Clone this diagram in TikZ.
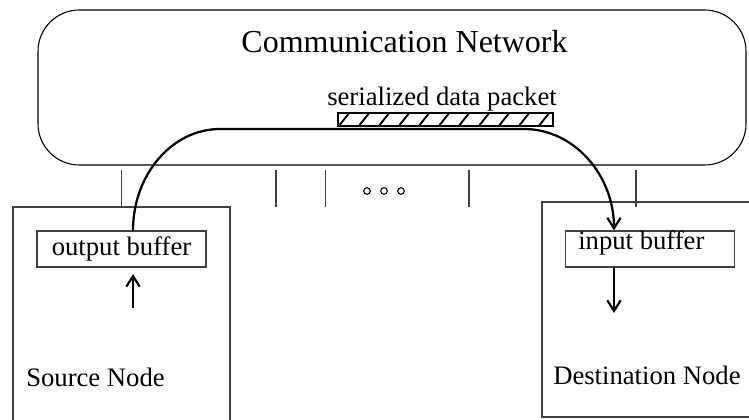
\documentclass[tikz,border=0pt]{standalone}
\usepackage{fontspec}
\setmainfont{Liberation Serif}
\usetikzlibrary{arrows.meta,positioning}
\definecolor{boxgray}{RGB}{64,64,64}

\begin{document}
\begin{tikzpicture}[x=.75pt,y=-.75pt,
    every node/.style={inner sep=0pt,font=\fontsize{20}{24}\selectfont},
    titletext/.style={font=\fontsize{24}{29}\selectfont},
    netbox/.style={draw=black,line width=.8pt,rounded corners=31pt},
    nodebox/.style={draw=boxgray,line width=.9pt},
    bufbox/.style={draw=boxgray,line width=.9pt,minimum width=126.75pt,minimum height=27pt},
    port/.style={draw=boxgray,line width=.9pt},
    flow/.style={line width=1.7pt,-{Straight Barb[length=8pt,width=10pt,line width=1.6pt]}}]
  \useasboundingbox (0,0) rectangle (749,420);
  % network cloud
  \draw[netbox] (38,10) rectangle (746,165);
  \node[titletext,anchor=base] (nettitle) at (404.5,53) {Communication Network};
  \node[anchor=base] (pktlabel) at (442,106) {serialized data packet};
  % packet
  \begin{scope}
    \clip (338,113) rectangle (553,126);
    \foreach \x in {338,358,...,538}
      \draw[line width=1.4pt] (\x,127) -- (\x+12,112);
  \end{scope}
  \draw[line width=1.6pt] (338,113) rectangle (553,126);
  % ports
  \foreach \x in {121.5,276,325.5,469,636}
    \draw[port] (\x,170) -- (\x,207);
  \foreach \x in {367,384,401}
    \draw[line width=.8pt] (\x,191) circle (3.3);
  % source and destination
  \draw[nodebox] (13,425) -- (13,207) -- (230,207) -- (230,425);
  \draw[nodebox] (760,202) -- (542,202) -- (542,417) -- (760,417);
  \node[anchor=base west] (srclabel) at (26,386) {Source Node};
  \node[anchor=base west] (dstlabel) at (553,384) {Destination Node};
  \node[bufbox] (outbuf) at (121.5,249) {output buffer};
  \node[bufbox] (inbuf) at (650,249) {};
  \node[anchor=base west] (inlabel) at (578,250) {input buffer};
  \coordinate (srcin) at (133,308);
  \coordinate (dstout) at (614,313);
  % data flow
  \draw[flow] (srcin) -- (133,274);
  \draw[flow] (outbuf.north -| srcin) .. controls (133,174.7) and (172,129) .. (220,129)
    -- (524,129) .. controls (573.7,129) and (614,174.7) .. (inbuf.north -| dstout);
  \draw[flow] (inbuf.south -| dstout) -- (dstout);
\end{tikzpicture}
\end{document}
